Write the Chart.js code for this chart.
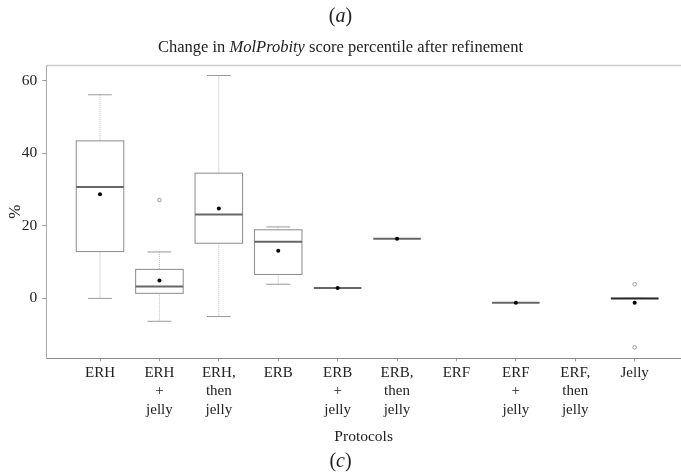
<!DOCTYPE html>
<html>
<head>
<meta charset="utf-8">
<script src="https://cdn.jsdelivr.net/npm/chart.js@4/dist/chart.umd.min.js"></script>
<style>
  html, body { margin: 0; padding: 0; background: #fff; }
  body { width: 681px; height: 472px; position: relative; overflow: hidden; font-family: "Liberation Serif", "Times New Roman", serif; color: #222; }
  #wrap { position: absolute; left: 0; top: 0; width: 681px; height: 472px; }
  .lbl { position: absolute; left: 0; width: 681px; text-align: center; white-space: nowrap; }
  #panelA { top: 3px; font-size: 20px; line-height: 24px; }
  #title { top: 37px; font-size: 16.5px; line-height: 20px; }
  #panelC { top: 448px; font-size: 20px; line-height: 24px; }
</style>
</head>
<body>
<div id="wrap"><canvas id="c" width="681" height="472"></canvas></div>
<div class="lbl" id="panelA">(<i>a</i>)</div>
<div class="lbl" id="title">Change in <i>MolProbity</i> score percentile after refinement</div>
<div class="lbl" id="panelC">(<i>c</i>)</div>
<script>
// ---- data ----
const categories = [
  ['ERH'], ['ERH', '+', 'jelly'], ['ERH,', 'then', 'jelly'],
  ['ERB'], ['ERB', '+', 'jelly'], ['ERB,', 'then', 'jelly'],
  ['ERF'], ['ERF', '+', 'jelly'], ['ERF,', 'then', 'jelly'],
  ['Jelly']
];
const whiskerLow  = [0.0, -6.3, -5.0, 3.9, null, null, null, null, null, 0.0];
const q1          = [12.9, 1.4, 15.2, 6.6, null, null, null, null, null, 0.0];
const medians     = [30.7, 3.3, 23.1, 15.6, 2.9, 16.4, null, -1.2, null, 0.0];
const q3          = [43.4, 8.0, 34.5, 18.9, null, null, null, null, null, 0.0];
const whiskerHigh = [56.1, 12.8, 61.4, 19.7, null, null, null, null, null, 0.0];
const means       = [28.7, 4.9, 24.8, 13.1, 2.9, 16.4, null, -1.2, null, -1.2];
const outliers    = [[], [27.1], [], [], [], [], [], [], [], [3.9, -13.5]];
const yTicks = [0, 20, 40, 60];

const meanPoints = [];
means.forEach((m, i) => { if (m !== null) meanPoints.push({x: i, y: m}); });
const outlierPoints = [];
outliers.forEach((arr, i) => arr.forEach(v => outlierPoints.push({x: i, y: v})));

const boxPlugin = {
  id: 'boxes',
  beforeDatasetsDraw(chart) {
    const {ctx, chartArea, scales: {x, y}} = chart;
    const unit = x.getPixelForValue(1) - x.getPixelForValue(0);
    const half = unit * 0.4;
    const capHalf = unit * 0.2;
    ctx.save();
    // top frame line
    ctx.strokeStyle = '#cfcfcf';
    ctx.lineWidth = 1.5;
    ctx.beginPath();
    ctx.moveTo(chartArea.left, chartArea.top + 0.5);
    ctx.lineTo(chartArea.right, chartArea.top + 0.5);
    ctx.stroke();
    for (let i = 0; i < categories.length; i++) {
      const cx = x.getPixelForValue(i);
      const isFlat = whiskerLow[i] !== null && q1[i] === q3[i];
      if (whiskerLow[i] !== null) {
        const yl = y.getPixelForValue(whiskerLow[i]);
        const yh = y.getPixelForValue(whiskerHigh[i]);
        const y1 = y.getPixelForValue(q1[i]);
        const y3 = y.getPixelForValue(q3[i]);
        // dotted whiskers
        ctx.strokeStyle = '#b8b8b8';
        ctx.lineWidth = 1;
        ctx.setLineDash([1, 1]);
        ctx.beginPath();
        ctx.moveTo(cx, yh); ctx.lineTo(cx, y3);
        ctx.moveTo(cx, y1); ctx.lineTo(cx, yl);
        ctx.stroke();
        ctx.setLineDash([]);
        // caps
        ctx.strokeStyle = '#9a9a9a';
        ctx.beginPath();
        ctx.moveTo(cx - capHalf, yh); ctx.lineTo(cx + capHalf, yh);
        ctx.moveTo(cx - capHalf, yl); ctx.lineTo(cx + capHalf, yl);
        ctx.stroke();
        // box
        ctx.fillStyle = '#fff';
        ctx.fillRect(cx - half, y3, half * 2, y1 - y3);
        ctx.strokeStyle = '#8a8a8a';
        ctx.strokeRect(cx - half, y3, half * 2, y1 - y3);
      }
      if (medians[i] !== null) {
        const ym = y.getPixelForValue(medians[i]);
        ctx.strokeStyle = isFlat ? '#2a2a2a' : '#666';
        ctx.lineWidth = 2;
        ctx.beginPath();
        ctx.moveTo(cx - half, ym); ctx.lineTo(cx + half, ym);
        ctx.stroke();
      }
    }
    ctx.restore();
  }
};

const serif = '"Liberation Serif", "Times New Roman", serif';

new Chart(document.getElementById('c'), {
  type: 'scatter',
  data: {
    datasets: [
      {
        label: 'mean',
        data: meanPoints,
        pointRadius: 2,
        pointBackgroundColor: '#000',
        pointBorderWidth: 0,
        pointHoverRadius: 2
      },
      {
        label: 'outliers',
        data: outlierPoints,
        pointRadius: 1.8,
        pointBackgroundColor: '#fff',
        pointBorderColor: '#9a9a9a',
        pointBorderWidth: 1,
        pointHoverRadius: 1.8
      }
    ]
  },
  options: {
    responsive: false,
    animation: false,
    events: [],
    layout: { autoPadding: false, padding: { top: 65, right: 0, bottom: 0, left: 0 } },
    plugins: { legend: { display: false }, tooltip: { enabled: false }, title: { display: false } },
    scales: {
      x: {
        type: 'linear',
        min: -0.904,
        max: 9.78,
        afterBuildTicks: (s) => { s.ticks = categories.map((c, i) => ({ value: i })); },
        afterFit: (s) => { s.height = 472 - 358.3; s.paddingRight = 0; s.paddingLeft = 0; },
        ticks: {
          autoSkip: false,
          maxRotation: 0,
          padding: 2,
          color: '#222',
          font: { family: serif, size: 15, lineHeight: 1.25 },
          callback: (v) => categories[v]
        },
        grid: { display: true, drawOnChartArea: false, drawTicks: true, tickLength: 3, color: '#9a9a9a' },
        border: { display: true, color: '#8a8a8a', width: 1 },
        title: { display: true, text: 'Protocols', color: '#222', font: { family: serif, size: 15.5, lineHeight: 1.2 }, padding: { top: 4, bottom: 26 } }
      },
      y: {
        type: 'linear',
        min: -16.5,
        max: 64.3,
        afterBuildTicks: (s) => { s.ticks = yTicks.map(v => ({ value: v })); },
        afterFit: (s) => { s.width = 46.3; s.paddingTop = 0; s.paddingBottom = 0; },
        ticks: { padding: 5, color: '#222', font: { family: serif, size: 15.5 } },
        grid: { display: true, drawOnChartArea: false, drawTicks: true, tickLength: 4, color: '#9a9a9a' },
        border: { display: true, color: '#a8a8a8', width: 1 },
        title: { display: true, text: '%', color: '#222', font: { family: serif, size: 17, lineHeight: 1.2 }, padding: { top: 5, bottom: 0 } }
      }
    }
  },
  plugins: [boxPlugin]
});
</script>
</body>
</html>
